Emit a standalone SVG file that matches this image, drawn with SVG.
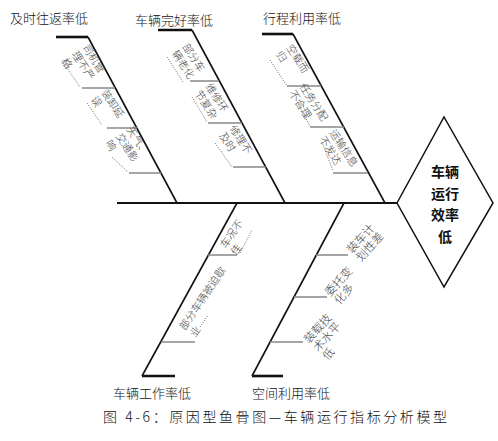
<svg xmlns="http://www.w3.org/2000/svg" width="498" height="441" viewBox="0 0 498 441">
<style>
.bone{stroke:#111;stroke-width:1.6;fill:none}
.stub{stroke:#111;stroke-width:2.6;fill:none}
.sub{stroke:#888;stroke-width:1.5;fill:none}
.dot{stroke:#777;stroke-width:0.9;stroke-dasharray:1.2 1.2;fill:none}
.t{font-family:"Noto Sans CJK SC","Noto Sans",sans-serif;fill:#111}
.ttl{font-size:13px;font-weight:300}
.lb{font-size:10.5px;fill:#444;font-weight:300}
.lb5{font-size:11.5px;fill:#444;font-weight:300}
.head{font-size:14px;font-weight:bold;text-anchor:middle}
</style>
<rect width="498" height="441" fill="#fff"/>
<g id="connectors">
<line class="bone" x1="117" y1="203" x2="397" y2="203" style="stroke-width:2.2"/>
<line class="stub" x1="56" y1="37" x2="88" y2="37"/>
<line class="bone" x1="88" y1="37" x2="177" y2="203"/>
<line class="stub" x1="158" y1="30" x2="192" y2="30"/>
<line class="bone" x1="192" y1="30" x2="285" y2="203"/>
<line class="stub" x1="262" y1="34" x2="293" y2="34"/>
<line class="bone" x1="293" y1="34" x2="385" y2="203"/>
<line class="bone" x1="237" y1="203" x2="142" y2="376"/>
<line class="stub" x1="142" y1="376" x2="175" y2="376"/>
<line class="bone" x1="344" y1="203" x2="252" y2="376"/>
<line class="stub" x1="252" y1="376" x2="283" y2="376"/>
<line class="sub" x1="82" y1="88" x2="115" y2="88"/>
<line class="sub" x1="107" y1="128" x2="137" y2="128"/>
<line class="sub" x1="129" y1="173" x2="161" y2="173"/>
<line class="sub" x1="190" y1="81" x2="219" y2="81"/>
<line class="sub" x1="208" y1="123" x2="242" y2="123"/>
<line class="sub" x1="233" y1="167" x2="266" y2="167"/>
<line class="sub" x1="287" y1="86" x2="321" y2="86"/>
<line class="sub" x1="310" y1="127" x2="344" y2="127"/>
<line class="sub" x1="333" y1="173" x2="368" y2="173"/>
<line class="sub" x1="208" y1="255" x2="237" y2="255"/>
<line class="sub" x1="161" y1="342" x2="195" y2="342"/>
<line class="sub" x1="316" y1="255" x2="348" y2="255"/>
<line class="sub" x1="294" y1="297" x2="327" y2="297"/>
<line class="sub" x1="270" y1="342" x2="303" y2="342"/>
<line class="dot" x1="62" y1="61" x2="80" y2="87"/>
<line class="dot" x1="87" y1="103" x2="102" y2="125"/>
<line class="dot" x1="112" y1="157" x2="128" y2="172"/>
<line class="dot" x1="167" y1="57" x2="183" y2="82"/>
<line class="dot" x1="192" y1="97" x2="207" y2="122"/>
<line class="dot" x1="215" y1="143" x2="232" y2="167"/>
<line class="dot" x1="270" y1="60" x2="287" y2="86"/>
<line class="dot" x1="296" y1="100" x2="310" y2="126"/>
<line class="dot" x1="322" y1="142" x2="333" y2="171"/>
<line class="dot" x1="240" y1="253" x2="252" y2="230"/>
<line class="dot" x1="200" y1="327" x2="208" y2="315"/>
</g>
<g id="effect">
<polygon points="397,203 444,117 493,203 444,287" fill="#fff" stroke="#111" stroke-width="1.5"/>
<text class="t head" x="445" y="177">车辆</text>
<text class="t head" x="445" y="198.5">运行</text>
<text class="t head" x="445" y="220">效率</text>
<text class="t head" x="445" y="241.5">低</text>
</g>
<g id="cause-return">
<text class="t ttl" x="10" y="23">及时往返率低</text>
<text class="t lb" transform="translate(82,47.5) rotate(57)"><tspan x="0" y="0">司机管</tspan><tspan x="0" y="12.5">理不严</tspan><tspan x="0" y="25">格</tspan></text>
<text class="t lb" transform="translate(101,92.5) rotate(57)"><tspan x="0" y="0">装卸延</tspan><tspan x="0" y="12.5">误</tspan></text>
<text class="t lb" transform="translate(126,129.5) rotate(57)"><tspan x="0" y="0">天气、</tspan><tspan x="0" y="12.5">交通影</tspan><tspan x="0" y="25">响</tspan></text>
</g>
<g id="cause-intact">
<text class="t ttl" x="135" y="24.5">车辆完好率低</text>
<text class="t lb" transform="translate(182,46.5) rotate(57)"><tspan x="0" y="0">部分车</tspan><tspan x="0" y="12.5">辆老化</tspan></text>
<text class="t lb" transform="translate(205,86.5) rotate(57)"><tspan x="0" y="0">维修环</tspan><tspan x="0" y="12.5">节复杂</tspan></text>
<text class="t lb" transform="translate(229,128.5) rotate(57)"><tspan x="0" y="0">修理不</tspan><tspan x="0" y="12.5">及时</tspan></text>
</g>
<g id="cause-trip">
<text class="t ttl" x="263" y="23">行程利用率低</text>
<text class="t lb" transform="translate(286,47.5) rotate(57)"><tspan x="0" y="0">空载而</tspan><tspan x="0" y="12.5">归</tspan></text>
<text class="t lb" transform="translate(299,86.5) rotate(57)"><tspan x="0" y="0">任务分配</tspan><tspan x="0" y="12.5">不合理</tspan></text>
<text class="t lb" transform="translate(329,132.5) rotate(57)"><tspan x="0" y="0">运输信息</tspan><tspan x="0" y="12.5">不发达</tspan></text>
</g>
<g id="cause-work">
<text class="t ttl" x="113" y="398">车辆工作率低</text>
<text class="t lb" transform="translate(226,249) rotate(-56)"><tspan x="0" y="0">车况不</tspan><tspan x="0" y="12.5">佳</tspan></text>
<text class="t lb" transform="translate(185,331) rotate(-56)"><tspan x="0" y="0">部分车辆被迫歇</tspan><tspan x="0" y="12.5">业</tspan></text>
</g>
<g id="cause-space">
<text class="t ttl" x="252" y="398">空间利用率低</text>
<text class="t lb5" transform="translate(352,254) rotate(-48)"><tspan x="0" y="0">装车计</tspan><tspan x="0" y="12.5">划性差</tspan></text>
<text class="t lb5" transform="translate(330,297) rotate(-48)"><tspan x="0" y="0">委托变</tspan><tspan x="0" y="12.5">化多</tspan></text>
<text class="t lb5" transform="translate(309,344) rotate(-48)"><tspan x="0" y="0">装载技</tspan><tspan x="0" y="12.5">术水平</tspan><tspan x="0" y="25">低</tspan></text>
</g>
<text class="t" x="103" y="422" font-size="14" font-weight="300" textLength="344" lengthAdjust="spacing" fill="#222">图 4-6：原因型鱼骨图—车辆运行指标分析模型</text>
</svg>
